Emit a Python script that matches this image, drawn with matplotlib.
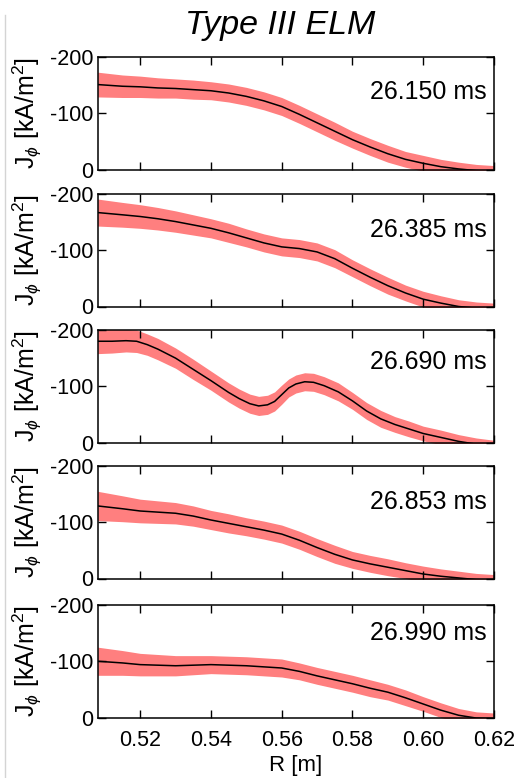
import numpy as np
import matplotlib
matplotlib.use("Agg")
import matplotlib.pyplot as plt
from matplotlib.lines import Line2D

plt.rcParams["font.family"] = ["Liberation Sans", "DejaVu Sans"]
plt.rcParams["mathtext.fontset"] = "custom"
plt.rcParams["mathtext.rm"] = "Liberation Sans"
plt.rcParams["mathtext.it"] = "Liberation Sans:italic"
plt.rcParams["axes.unicode_minus"] = False

# ---- data: toroidal current density profiles J_phi(R) at five times ----
times = ["26.150 ms", "26.385 ms", "26.690 ms", "26.853 ms", "26.990 ms"]

r_std = [0.508, 0.515, 0.52, 0.525, 0.53, 0.535, 0.54, 0.545, 0.55, 0.555,
         0.56, 0.565, 0.57, 0.575, 0.58, 0.585, 0.59, 0.595, 0.60, 0.605,
         0.61, 0.615, 0.62]

j_t1 = [-151, -148, -147, -145, -144, -142, -140, -136, -130, -122,
        -112, -98, -83, -68, -53, -40, -28, -18, -11, -5,
        -1, 2, 3]
e_t1 = [22, 20, 19, 18, 17, 17, 16, 16, 16, 16,
        16, 16, 16, 16, 15, 15, 15, 14, 14, 13,
        12, 11, 10]

j_t2 = [-167, -163, -160, -156, -151, -145, -139, -131, -122, -113,
        -106, -103, -97, -85, -68, -52, -37, -24, -13, -6,
        0, 3, 4]
e_t2 = [24, 22, 21, 20, 19, 18, 17, 17, 16, 16,
        16, 16, 16, 16, 15, 15, 15, 14, 14, 13,
        12, 11, 10]

r_t3 = [0.508, 0.512, 0.516, 0.519, 0.522, 0.525, 0.53, 0.535, 0.54, 0.545,
        0.548, 0.551, 0.5535, 0.556, 0.558, 0.56, 0.562, 0.564, 0.5665, 0.569,
        0.572, 0.576, 0.58, 0.584, 0.588, 0.592, 0.596, 0.60, 0.605, 0.61,
        0.615, 0.62]
j_t3 = [-180, -180, -181, -180, -174, -166, -150, -130, -110, -89,
        -78, -69, -65, -67, -73, -85, -97, -104, -108, -107,
        -101, -90, -74, -56, -42, -32, -24, -16, -9, -2,
        3, 6]
e_t3 = [22, 21, 20, 20, 19, 19, 18, 18, 17, 17,
        17, 17, 17, 17, 17, 17, 16, 16, 16, 16,
        16, 16, 15, 15, 15, 14, 14, 13, 13, 12,
        11, 10]

j_t4 = [-129, -124, -120, -118, -116, -111, -104, -98, -92, -86,
        -79, -68, -55, -43, -33, -26, -20, -14, -8, -4,
        -1, 2, 3]
e_t4 = [26, 23, 21, 20, 19, 18, 17, 17, 16, 16,
        16, 16, 16, 16, 15, 15, 15, 14, 14, 13,
        12, 11, 10]

j_t5 = [-100, -97, -94, -93, -92, -93, -94, -93, -92, -90,
        -88, -82, -74, -67, -60, -52, -45, -35, -24, -13,
        -4, 1, 2]
e_t5 = [25, 22, 20, 19, 18, 17, 16, 16, 16, 16,
        16, 15, 15, 15, 15, 15, 14, 14, 13, 13,
        12, 11, 10]

profiles = [
    (r_std, j_t1, e_t1),
    (r_std, j_t2, e_t2),
    (r_t3, j_t3, e_t3),
    (r_std, j_t4, e_t4),
    (r_std, j_t5, e_t5),
]

x_ticks = [0.52, 0.54, 0.56, 0.58, 0.60, 0.62]
x_ticklabels = ["0.52", "0.54", "0.56", "0.58", "0.60", "0.62"]
y_ticks = [-200, -100, 0]
y_ticklabels = ["-200", "-100", "0"]

# ---- layout ----
W, H = 515, 778
fig = plt.figure(figsize=(W / 100, H / 100), dpi=100)

left_px, right_px = 97.7, 494.0
tops_px = [57, 194, 330, 466, 605]
panel_h_px = 112.5
label_y = [0.69, 0.68, 0.715, 0.68, 0.75]

band_color = "#FF7F7F"

for i, ((r, j, e), t) in enumerate(zip(profiles, times)):
    bottom = 1 - (tops_px[i] + panel_h_px) / H
    ax = fig.add_axes([left_px / W, bottom, (right_px - left_px) / W, panel_h_px / H])
    r = np.asarray(r)
    j = np.asarray(j, dtype=float)
    e = np.asarray(e, dtype=float)
    ax.fill_between(r, j - e, j + e, color=band_color, linewidth=0, zorder=1)
    ax.plot(r, j, color="black", linewidth=1.1, zorder=2)

    ax.set_xlim(0.508, 0.62)
    ax.set_ylim(0, -200)
    ax.set_xticks(x_ticks)
    ax.set_yticks(y_ticks)
    ax.set_yticklabels(y_ticklabels)
    if i == len(profiles) - 1:
        ax.set_xticklabels(x_ticklabels)
        ax.set_xlabel("R [m]", fontsize=16, labelpad=3)
    else:
        ax.set_xticklabels([])
    ax.tick_params(direction="in", top=True, right=True, length=6, width=1.0,
                   labelsize=15.5, colors="black")
    ax.tick_params(axis="x", pad=9)
    ax.tick_params(axis="y", pad=3)
    for sp in ax.spines.values():
        sp.set_linewidth(1.1)
        sp.set_zorder(3)
    ax.set_ylabel(r"J$_{\phi}$ [kA/m$^2$]", fontsize=18)
    ax.yaxis.set_label_coords(-0.135, 0.5)
    ax.text(0.982, label_y[i], t, transform=ax.transAxes, ha="right", va="center",
            fontsize=18)

fig.text(280 / W, 1 - 34 / H, "Type III ELM", ha="center", va="baseline",
         fontsize=24.5, fontstyle="italic")

# thin frame rule on the left edge of the figure
fig.add_artist(Line2D([5 / W, 5 / W], [0, 1 - 15 / H], transform=fig.transFigure,
                      color="#d4d4d4", linewidth=1.0))

fig.savefig("out.png", dpi=100)
